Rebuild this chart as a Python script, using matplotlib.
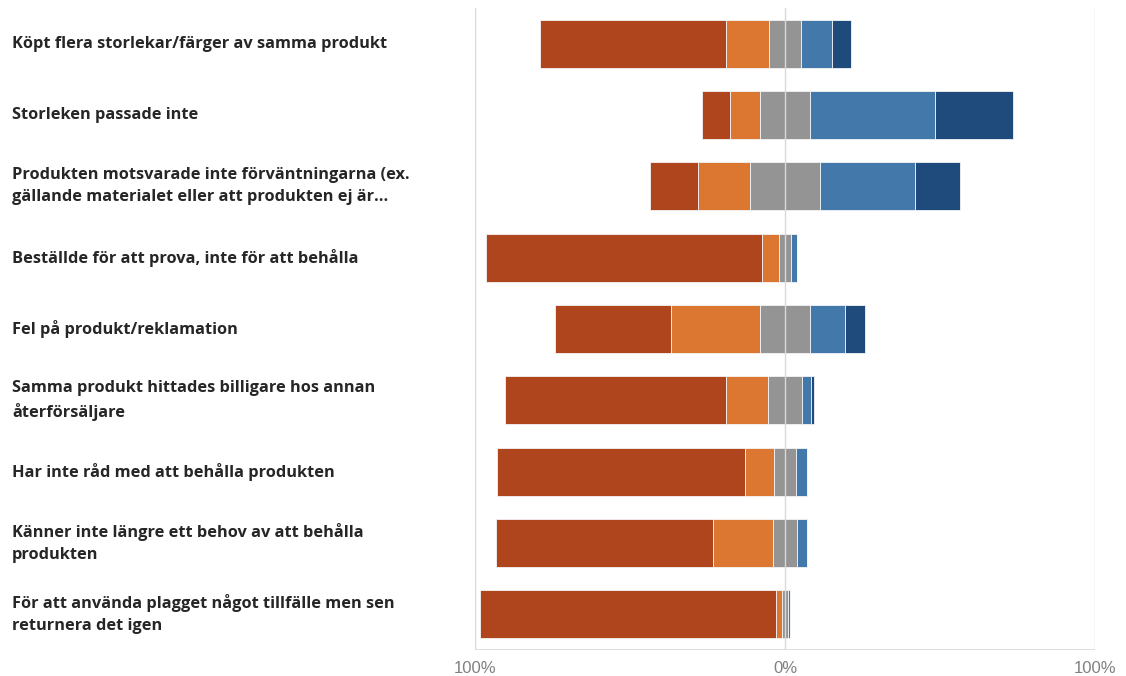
import numpy as np
import matplotlib
matplotlib.use('Agg')
import matplotlib.pyplot as plt
from matplotlib.transforms import blended_transform_factory

plt.rcParams['font.family'] = ['Open Sans', 'DejaVu Sans']

categories = [
    "Köpt flera storlekar/färger av samma produkt",
    "Storleken passade inte",
    "Produkten motsvarade inte förväntningarna (ex.\ngällande materialet eller att produkten ej är…",
    "Beställde för att prova, inte för att behålla",
    "Fel på produkt/reklamation",
    "Samma produkt hittades billigare hos annan\nåterförsäljare",
    "Har inte råd med att behålla produkten",
    "Känner inte längre ett behov av att behålla\nprodukten",
    "För att använda plagget något tillfälle men sen\nreturnera det igen",
]

# percent per answer level
very_low = [59.8, 9.1, 15.7, 88.8, 37.4, 71.4, 79.9, 69.8, 95.3]
low = [13.9, 9.4, 16.8, 5.6, 28.7, 13.6, 9.6, 19.5, 1.9]
neutral = [10.5, 16.4, 22.4, 3.9, 16.4, 10.9, 6.8, 7.7, 2.2]
high = [9.8, 40.3, 30.6, 1.8, 11.2, 2.9, 3.8, 3.1, 0.6]
very_high = [6.1, 25.0, 14.6, 0.0, 6.5, 1.1, 0.0, 0.0, 0.0]

colors = ['#AE451D', '#DC7731', '#949494', '#4378AA', '#1F4A7C']

fig = plt.figure(figsize=(11.26, 6.76), dpi=100)
ax = fig.add_axes([475 / 1126, 1 - 650 / 676, 620 / 1126, 642 / 676])

y = np.arange(len(categories))
vl = np.array(very_low)
lo = np.array(low)
ne = np.array(neutral)
hi = np.array(high)
vh = np.array(very_high)

start = -(vl + lo + ne / 2)
segs = [vl, lo, ne, hi, vh]
left = start.copy()
for seg, c in zip(segs, colors):
    ax.barh(y, seg, left=left, height=0.67, color=c, edgecolor='#f4f4f4',
            linewidth=0.6, zorder=2)
    left = left + seg

ax.set_xlim(-100, 100)
ax.set_ylim(len(categories) - 0.5, -0.5)
for xv in (-100, 100):
    ax.axvline(xv, color='#D9D9D9', lw=1, zorder=1)
ax.axvline(0, color='#D9D9D9', lw=1, zorder=3)
ax.axhline(len(categories) - 0.5, color='#D9D9D9', lw=1.2, zorder=1)

for s in ax.spines.values():
    s.set_visible(False)
ax.set_yticks([])
ax.set_xticks([-100, 0, 100])
ax.set_xticklabels(['100%', '0%', '100%'], family='Liberation Sans')
ax.tick_params(axis='x', length=0, pad=8, labelsize=12, labelcolor='#808080')

trans = blended_transform_factory(fig.transFigure, ax.transData)
for i, lab in enumerate(categories):
    fig.text(12 / 1126, i, lab, transform=trans, ha='left', va='center',
             fontsize=11.8, fontweight='bold', color='#262626', linespacing=1.5)

fig.savefig('out.png', dpi=100)
